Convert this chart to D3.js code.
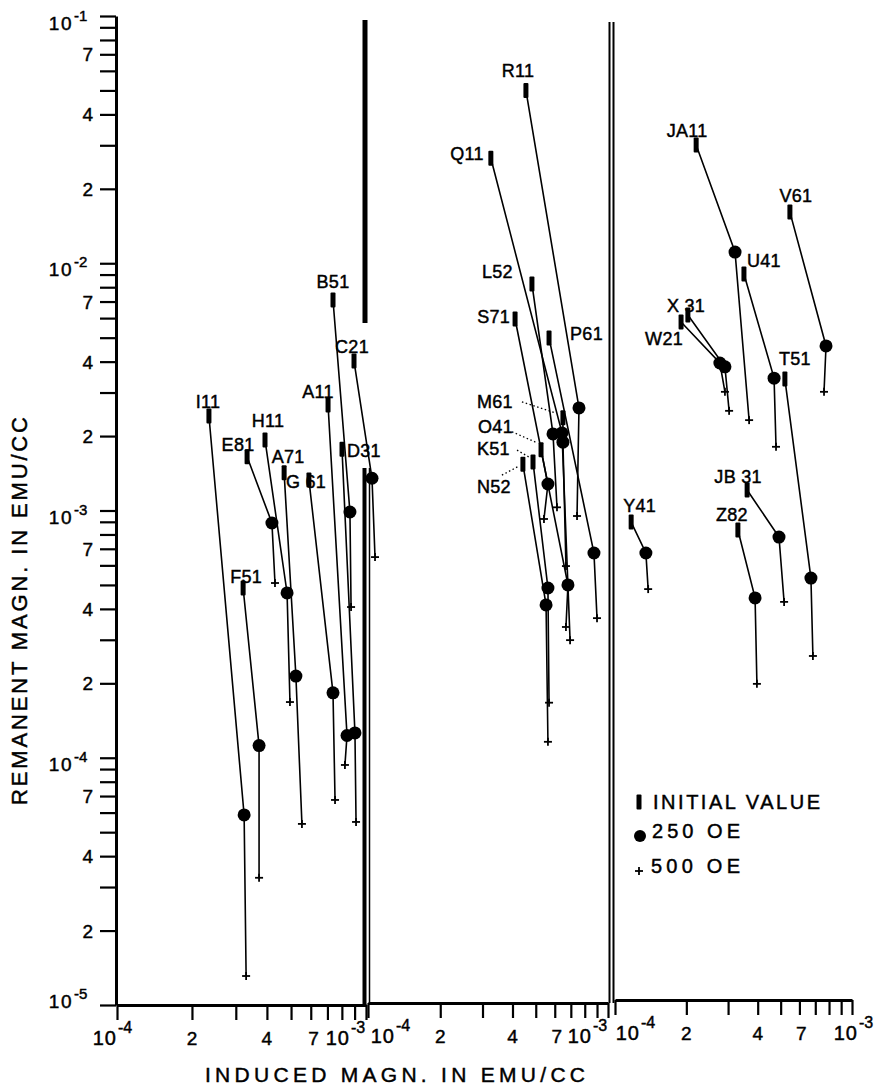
<!DOCTYPE html>
<html><head><meta charset="utf-8">
<script src="https://cdn.jsdelivr.net/npm/d3@7"></script>
<style>
html,body{margin:0;padding:0;background:#fff;}
svg{display:block;}
text{font-family:"Liberation Sans", Arial, sans-serif; fill:#000; stroke:#000; stroke-width:0.45px;}
</style></head><body>
<svg id="chart" width="880" height="1088"></svg>
<script>
// ================= DATA =================
const sampleNames = ["I11","F51","E81","H11","A71","G 61","A11","D31","B51","C21",
  "R11","Q11","L52","P61","M61","S71","O41","K51","N52",
  "JA11","U41","V61","X 31","W21","T51","JB 31","Z82","Y41"];
const samplePanel = [0,0,0,0,0,0,0,0,0,0, 1,1,1,1,1,1,1,1,1, 2,2,2,2,2,2,2,2,2];
// initial value (induced, remanent) in emu/cc
const initialInduced = [2.34e-4,3.21e-4,3.33e-4,3.93e-4,4.69e-4,5.90e-4,7.04e-4,8.01e-4,7.37e-4,8.95e-4,
  4.55e-4,3.25e-4,4.82e-4,5.68e-4,6.49e-4,4.10e-4,5.26e-4,4.87e-4,4.42e-4,
  2.20e-4,3.50e-4,5.47e-4,2.03e-4,1.90e-4,5.21e-4,3.61e-4,3.30e-4,1.17e-4];
const initialRemanent = [2.41e-3,4.86e-4,1.65e-3,1.93e-3,1.42e-3,1.33e-3,2.67e-3,1.77e-3,7.10e-3,4.02e-3,
  5.0e-2,2.66e-2,8.25e-3,4.99e-3,2.37e-3,5.95e-3,1.76e-3,1.57e-3,1.54e-3,
  3.01e-2,9.05e-3,1.61e-2,6.18e-3,5.79e-3,3.40e-3,1.21e-3,8.34e-4,8.98e-4];
// after 250 Oe
const induced250 = [3.24e-4,3.72e-4,4.19e-4,4.82e-4,5.23e-4,7.37e-4,8.39e-4,9.03e-4,8.62e-4,1.057e-3,
  7.57e-4,6.43e-4,5.90e-4,8.74e-4,6.49e-4,5.62e-4,6.81e-4,5.62e-4,5.52e-4,
  3.21e-4,4.69e-4,7.77e-4,2.91e-4,2.77e-4,6.71e-4,4.92e-4,3.90e-4,1.35e-4];
const remanent250 = [5.87e-5,1.12e-4,8.9e-4,4.64e-4,2.14e-4,1.83e-4,1.23e-4,1.26e-4,9.86e-4,1.35e-3,
  2.6e-3,2.06e-3,2.04e-3,6.73e-4,1.89e-3,1.28e-3,5.0e-4,4.86e-4,4.15e-4,
  1.11e-2,3.43e-3,4.63e-3,3.81e-3,3.95e-3,5.33e-4,7.81e-4,4.43e-4,6.73e-4];
// after 500 Oe
const induced500 = [3.30e-4,3.72e-4,4.31e-4,4.95e-4,5.53e-4,7.51e-4,8.23e-4,9.12e-4,8.71e-4,1.087e-3,
  7.43e-4,6.95e-4,6.13e-4,9.0e-4,6.68e-4,5.41e-4,6.68e-4,5.68e-4,5.62e-4,
  3.68e-4,4.78e-4,7.62e-4,3.03e-4,2.91e-4,6.84e-4,5.17e-4,3.97e-4,1.38e-4];
const remanent500 = [1.31e-5,3.27e-5,5.09e-4,1.68e-4,5.40e-5,6.75e-5,9.35e-5,5.50e-5,4.07e-4,6.48e-4,
  9.5e-4,2.99e-4,1.03e-3,3.67e-4,5.96e-4,9.24e-4,3.38e-4,1.67e-4,1.16e-4,
  2.32e-3,1.81e-3,3.02e-3,2.53e-3,3.02e-3,2.58e-4,4.27e-4,1.99e-4,4.81e-4];

// axis tick labels
const yMajorTicks = [1e-5,1e-4,1e-3,1e-2,1e-1];
const yMajorExponents = ["-5","-4","-3","-2","-1"];
const yMinorLabelMantissas = [2,4,7];
const xTickValues = [1e-4,2e-4,3e-4,4e-4,5e-4,6e-4,7e-4,8e-4,9e-4,1e-3];
const xLabelTicks = [1e-4,2e-4,4e-4,7e-4,1e-3];
const xLabelTexts = ["10|-4","2","4","7","10|-3"];
const legendTexts = ["INITIAL VALUE","250 OE","500 OE"];
const xTitle = "INDUCED MAGN. IN EMU/CC";
const yTitle = "REMANENT MAGN. IN EMU/CC";

// ================= LAYOUT =================
const W = 880, H = 1088;
const panelRanges = [[117,366],[368,608],[615,852]];
const axisY = [1005,1003,1000];
// label offsets relative to initial marker: [dx, dy(baseline), anchor]
const labelLayout = {
  "I11":[-1,-8,"middle"],"F51":[3,-5,"middle"],"E81":[-9,-6,"middle"],"H11":[3,-13,"middle"],
  "A71":[4,-10,"middle"],"G 61":[-23,8,"start"],"A11":[-10,-7,"middle"],"D31":[5,8,"start"],
  "B51":[0,-12,"middle"],"C21":[-2,-8,"middle"],
  "R11":[-8,-13,"middle"],"Q11":[-7,2,"end"],"L52":[-19,-6,"end"],"S71":[-5,4,"end"],
  "P61":[21,2,"start"],"M61":[-86,-10,"start"],"O41":[-63,-17,"start"],"K51":[-56,-7,"start"],
  "N52":[-46,29,"start"],
  "JA11":[-9,-8,"middle"],"U41":[3,-7,"start"],"V61":[6,-10,"middle"],"X 31":[-21,-3,"start"],
  "W21":[-17,23,"middle"],"T51":[10,-14,"middle"],"JB 31":[-9,-7,"middle"],"Z82":[-6,-9,"middle"],
  "Y41":[-8,-10,"start"]
};
// dotted leaders [x1,y1,x2,y2] relative to initial marker
const leaderLayout = {
  "M61":[-41,-16,-8,-5],"O41":[-29,-18,-4,-7],"K51":[-16,-12,-4,-5],"N52":[-21,11,-4,2]
};

const svg = d3.select("#chart");
svg.append("rect").attr("width",W).attr("height",H).attr("fill","#fff");

const y = d3.scaleLog().domain([1e-5,1e-1]).range([1005,16]);
const xs = panelRanges.map(r => d3.scaleLog().domain([1e-4,1e-3]).range(r));

// ---- Y axis ----
const yTicks = [];
yMajorTicks.forEach((t,i) => { if (i < yMajorTicks.length-1) { for (let m=1;m<=9;m++) yTicks.push(m*t); } else yTicks.push(t); });
const yAxisG = svg.append("g").attr("transform","translate(116,0)")
  .call(d3.axisLeft(y).tickValues(yTicks).tickSize(16).tickSizeOuter(0).tickFormat(""));
yAxisG.select(".domain").attr("stroke","#000").attr("stroke-width",3);
yAxisG.selectAll(".tick line").attr("stroke","#000").attr("stroke-width",2.2);

// minor labels
yMajorTicks.slice(0,-1).forEach(t => {
  yMinorLabelMantissas.forEach(m => {
    svg.append("text").attr("x",93).attr("y",y(m*t)+7).attr("text-anchor","end")
      .attr("font-size",19).text(String(m));
  });
});
// major labels
yMajorTicks.forEach((t,i) => {
  const yy = y(t);
  const base = (i===0) ? yy+3 : (i===yMajorTicks.length-1 ? yy+14 : yy+13);
  svg.append("text").attr("x",73).attr("y",base).attr("text-anchor","end")
    .attr("font-size",19).attr("letter-spacing",1.5).text("10");
  svg.append("text").attr("x",74).attr("y",base-9).attr("text-anchor","start")
    .attr("font-size",15).text(yMajorExponents[i]);
});

// ---- X axes ----
const powOffsets = [[0,-16],[27,-16],[25,6]];
xs.forEach((sc,p) => {
  const g = svg.append("g").attr("transform",`translate(0,${axisY[p]})`)
    .call(d3.axisBottom(sc).tickValues(xTickValues).tickSize(15).tickSizeOuter(0).tickFormat(""));
  g.select(".domain").attr("stroke","#000").attr("stroke-width",3);
  g.selectAll(".tick line").attr("stroke","#000").attr("stroke-width",2.2);
  xLabelTicks.forEach((t,j) => {
    const tx = sc(t);
    const lab = xLabelTexts[j];
    const by = axisY[p] + 40;
    if (lab.indexOf("|")>=0) {
      const [b,e] = lab.split("|");
      const off = powOffsets[p][j===0?0:1];
      svg.append("text").attr("x",tx+off).attr("y",by).attr("text-anchor","end")
        .attr("font-size",20).attr("letter-spacing",1).text(b);
      svg.append("text").attr("x",tx+off+1).attr("y",by-12).attr("text-anchor","start")
        .attr("font-size",16).text(e);
    } else {
      const dx = lab==="7" ? -14 : 0;
      svg.append("text").attr("x",tx+dx).attr("y",by).attr("text-anchor","middle")
        .attr("font-size",19).text(lab);
    }
  });
});

// ---- panel separators ----
const sep = svg.append("g").attr("stroke","#000").attr("fill","none");
sep.append("line").attr("x1",365).attr("x2",365).attr("y1",20).attr("y2",323).attr("stroke-width",5);
sep.append("line").attr("x1",364.5).attr("x2",364.5).attr("y1",468).attr("y2",1005).attr("stroke-width",4);
sep.append("line").attr("x1",369.5).attr("x2",369.5).attr("y1",468).attr("y2",1005).attr("stroke-width",1.5);
sep.append("line").attr("x1",609.5).attr("x2",609.5).attr("y1",22).attr("y2",1003).attr("stroke-width",2);
sep.append("line").attr("x1",613.5).attr("x2",613.5).attr("y1",22).attr("y2",1003).attr("stroke-width",2);

// ---- samples ----
const pts = sampleNames.map((n,i) => {
  const sc = xs[samplePanel[i]];
  return [
    [sc(initialInduced[i]), y(initialRemanent[i])],
    [sc(induced250[i]), y(remanent250[i])],
    [sc(induced500[i]), y(remanent500[i])]
  ];
});
const line = d3.line();
const lg = svg.append("g");
pts.forEach(p => {
  lg.append("path").attr("d",line(p)).attr("fill","none").attr("stroke","#000").attr("stroke-width",1.6);
});
function plus(g, cx, cy) {
  g.append("line").attr("x1",cx-4).attr("x2",cx+4).attr("y1",cy).attr("y2",cy).attr("stroke","#000").attr("stroke-width",1.8);
  g.append("line").attr("x1",cx).attr("x2",cx).attr("y1",cy-4).attr("y2",cy+4).attr("stroke","#000").attr("stroke-width",1.8);
}
function bar(g, cx, cy) {
  g.append("rect").attr("x",cx-2.5).attr("y",cy-7.5).attr("width",5).attr("height",15).attr("rx",1).attr("fill","#000");
}
const mg = svg.append("g");
pts.forEach(p => {
  bar(mg, p[0][0], p[0][1]);
  mg.append("circle").attr("cx",p[1][0]).attr("cy",p[1][1]).attr("r",6.5).attr("fill","#000");
  plus(mg, p[2][0], p[2][1]);
});
// labels
sampleNames.forEach((n,i) => {
  const [dx,dy,anc] = labelLayout[n];
  const [px,py] = pts[i][0];
  svg.append("text").attr("x",px+dx).attr("y",py+dy).attr("text-anchor",anc)
    .attr("font-size",18).attr("letter-spacing",0.3).text(n);
  if (leaderLayout[n]) {
    const l = leaderLayout[n];
    svg.append("line").attr("x1",px+l[0]).attr("y1",py+l[1]).attr("x2",px+l[2]).attr("y2",py+l[3])
      .attr("stroke","#000").attr("stroke-width",1.3).attr("stroke-dasharray","1.5,2.5");
  }
});

// ---- legend ----
const leg = svg.append("g");
bar(leg, 639, 802);
leg.append("circle").attr("cx",640).attr("cy",836).attr("r",6).attr("fill","#000");
plus(leg, 639, 871);
[[653,809,167],[652,838,88],[651,873,89]].forEach((d,i) => {
  leg.append("text").attr("x",d[0]).attr("y",d[1]).attr("font-size",20)
    .attr("textLength",d[2]).attr("lengthAdjust","spacing").text(legendTexts[i]);
});

// ---- axis titles ----
svg.append("text").attr("x",205).attr("y",1082).attr("font-size",21)
  .attr("textLength",380).attr("lengthAdjust","spacing").text(xTitle);
svg.append("text").attr("transform","translate(27,805) rotate(-90)").attr("x",0).attr("y",0)
  .attr("font-size",22).attr("textLength",388).attr("lengthAdjust","spacing").text(yTitle);
</script>
</body></html>
